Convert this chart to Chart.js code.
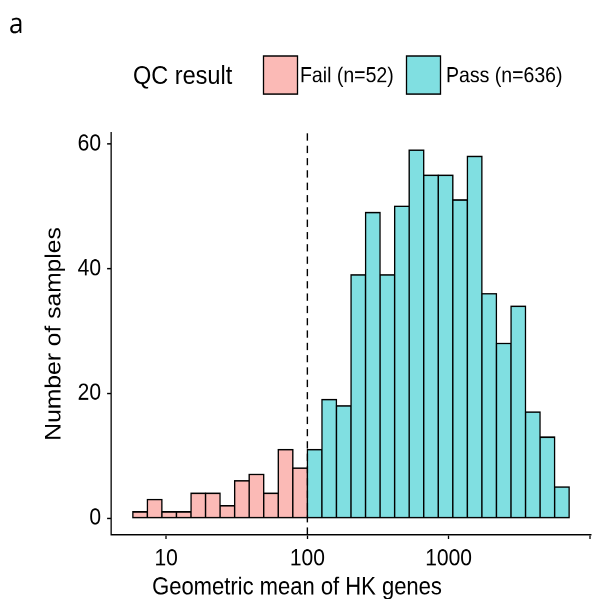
<!DOCTYPE html>
<html>
<head>
<meta charset="utf-8">
<script src="https://cdn.jsdelivr.net/npm/chart.js@4.4.1/dist/chart.umd.min.js"></script>
<style>
  html, body { margin: 0; padding: 0; background: #fff; overflow: hidden; }
  /* the figure is laid out at 595x535 and stretched to the 599px page height */
  #wrap { position: absolute; left: 0; top: 0; width: 595px; height: 535px;
          transform: scaleY(1.11963); transform-origin: 0 0; }
</style>
</head>
<body>
<div id="wrap"><canvas id="chart"></canvas></div>
<script>
// Histogram of the geometric mean of housekeeping-gene counts (log10 bins)
const failBinCenters = [0.8155, 0.9185, 1.0215, 1.1245, 1.2275, 1.3305,
                        1.4335, 1.5365, 1.6395, 1.7425, 1.8455, 1.9485];
const failCounts     = [1, 3, 1, 1, 4, 4, 2, 6, 7, 4, 11, 8];

const passBinCenters = [2.0515, 2.1545, 2.2575, 2.3605, 2.4635, 2.5665,
                        2.6695, 2.7725, 2.8755, 2.9785, 3.0815, 3.1845,
                        3.2875, 3.3905, 3.4935, 3.5965, 3.6995, 3.8025];
const passCounts     = [11, 19, 18, 39, 49, 39, 50, 59, 55, 55, 51, 58,
                        36, 28, 34, 17, 13, 5];

const xTickValues = [1, 2, 3, 4];            // log10 positions
const xTickLabels = ['10', '100', '1000', ''];
const yTickValues = [0, 20, 40, 60];

const qcThresholdLog = 2;                    // cut-off at 100
const legendTitle = 'QC result';
const seriesNames = ['Fail (n=52)', 'Pass (n=636)'];
const xAxisTitle = 'Geometric mean of HK genes';
const yAxisTitle = 'Number of samples';
const panelLabel = 'a';

const FAIL_FILL = '#FBBAB6';
const PASS_FILL = '#80DFE1';
const FONT = "'Liberation Sans', Arial, Helvetica, sans-serif";

const toPoints = (xs, ys) => xs.map((x, i) => ({ x: x, y: ys[i] }));

// vertical dashed cut-off line
const thresholdLine = {
  id: 'thresholdLine',
  afterDatasetsDraw(chart) {
    const ctx = chart.ctx;
    const area = chart.chartArea;
    const x = chart.scales.x.getPixelForValue(qcThresholdLog);
    ctx.save();
    ctx.strokeStyle = '#000';
    ctx.lineWidth = 1.4;
    ctx.setLineDash([6.5, 4.5]);
    ctx.beginPath();
    ctx.moveTo(x, area.bottom);
    ctx.lineTo(x, area.top);
    ctx.stroke();
    ctx.restore();
  }
};

// legend row with title, x-axis title and the panel letter
const annotations = {
  id: 'annotations',
  afterDraw(chart) {
    const ctx = chart.ctx;
    ctx.save();
    ctx.fillStyle = '#000';
    ctx.textBaseline = 'alphabetic';
    ctx.textAlign = 'left';

    ctx.font = "26px 'Open Sans', sans-serif";
    ctx.fillText(panelLabel, 9, 29.5);

    ctx.font = '23.5px ' + FONT;
    ctx.fillText(legendTitle, 133, 75);

    const keys = [
      { x: 263.5, fill: FAIL_FILL, label: seriesNames[0], tx: 300 },
      { x: 406.5, fill: PASS_FILL, label: seriesNames[1], tx: 446 }
    ];
    ctx.font = '19.5px ' + FONT;
    keys.forEach(k => {
      ctx.fillStyle = k.fill;
      ctx.fillRect(k.x, 50, 34, 34);
      ctx.strokeStyle = '#000';
      ctx.lineWidth = 1.3;
      ctx.strokeRect(k.x, 50, 34, 34);
      ctx.fillStyle = '#000';
      ctx.fillText(k.label, k.tx, 73.6);
    });

    ctx.font = '22px ' + FONT;
    ctx.textAlign = 'center';
    ctx.fillText(xAxisTitle, 297, 530.8);
    ctx.restore();
  }
};

new Chart(document.getElementById('chart'), {
  type: 'bar',
  data: {
    datasets: [
      { label: seriesNames[0], data: toPoints(failBinCenters, failCounts), backgroundColor: FAIL_FILL },
      { label: seriesNames[1], data: toPoints(passBinCenters, passCounts), backgroundColor: PASS_FILL }
    ]
  },
  options: {
    responsive: true,
    maintainAspectRatio: false,
    animation: false,
    devicePixelRatio: 2,
    layout: { padding: { top: 118.8, left: 0, right: 0, bottom: 0 } },
    datasets: {
      bar: {
        grouped: false,
        barPercentage: 1,
        categoryPercentage: 1,
        borderColor: '#000',
        borderWidth: 1.4,
        borderSkipped: false,
        inflateAmount: 0.7
      }
    },
    plugins: { legend: { display: false }, tooltip: { enabled: false } },
    scales: {
      x: {
        type: 'linear',
        min: 0.6095,
        max: 4.0085,
        offset: false,
        grid: { display: true, drawOnChartArea: false, offset: false,
                tickLength: 3.9, tickColor: '#000', tickWidth: 1.3 },
        border: { display: true, color: '#000', width: 1.3 },
        afterBuildTicks: s => { s.ticks = xTickValues.map(v => ({ value: v })); },
        ticks: {
          color: '#000', font: { family: FONT, size: 21 }, padding: 5.2,
          maxRotation: 0, autoSkip: false,
          callback: (v, i) => xTickLabels[i]
        },
        title: { display: false },
        afterFit: s => { s.height = 57.4; }
      },
      y: {
        type: 'linear',
        min: -2.66,
        max: 61.76,
        grid: { display: true, drawOnChartArea: false,
                tickLength: 3.9, tickColor: '#000', tickWidth: 1.3 },
        border: { display: true, color: '#000', width: 1.3 },
        afterBuildTicks: s => { s.ticks = yTickValues.map(v => ({ value: v })); },
        ticks: { color: '#000', font: { family: FONT, size: 21 }, padding: 6.1,
                 callback: v => String(v) },
        title: { display: true, text: yAxisTitle, color: '#000',
                 font: { family: FONT, size: 22, lineHeight: 1 }, padding: { top: 43.2, bottom: 0 } },
        afterFit: s => { s.width = 111; }
      }
    }
  },
  plugins: [thresholdLine, annotations]
});
</script>
</body>
</html>
